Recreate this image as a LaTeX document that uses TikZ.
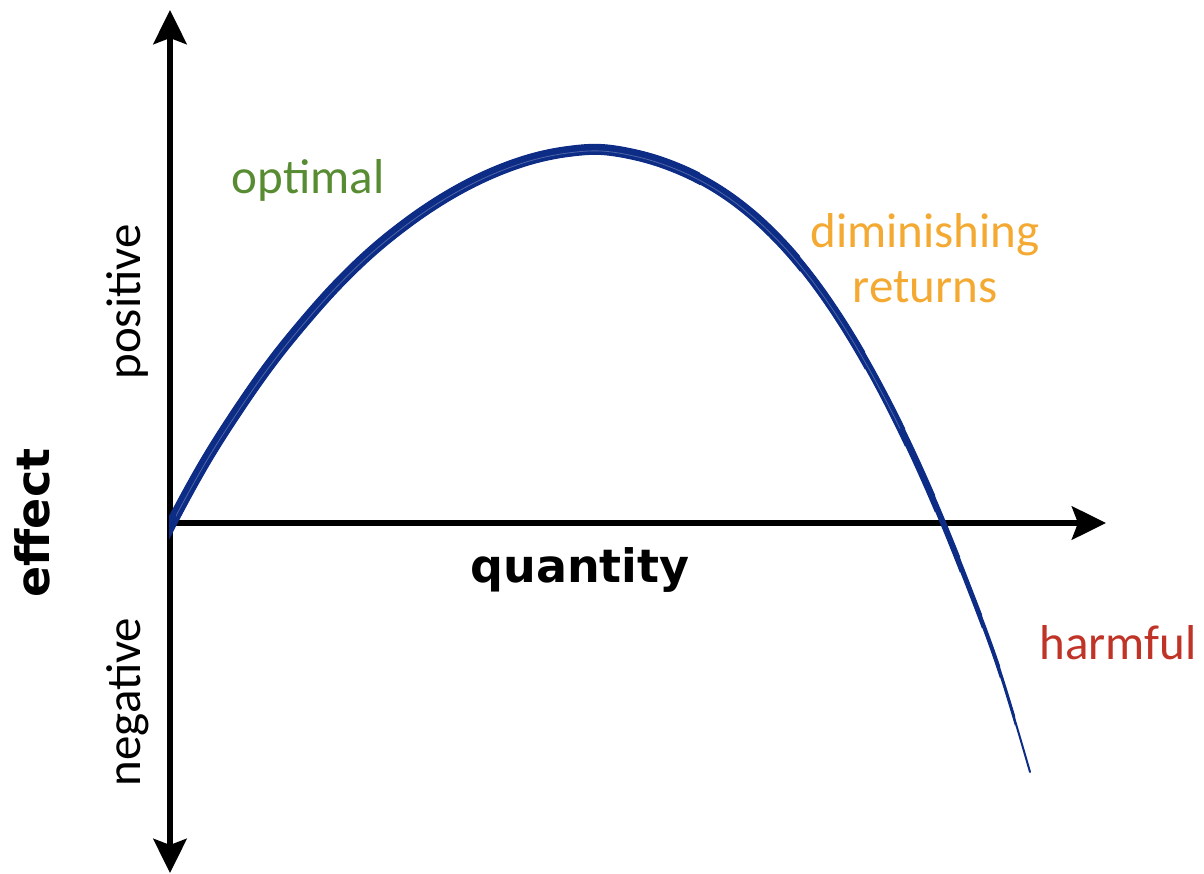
\documentclass[tikz,border=0pt]{standalone}
\usepackage{fontspec}
\usepackage{graphicx}
\setmainfont{Carlito}
\newfontfamily\boldface{DejaVu Sans}
\usetikzlibrary{arrows.meta}
\definecolor{navy}{RGB}{12,44,134}
\definecolor{optgreen}{RGB}{88,140,50}
\definecolor{dimorange}{RGB}{244,170,50}
\definecolor{harmred}{RGB}{192,52,40}
\newcommand{\hcurve}{plot[smooth,tension=0.6] coordinates {(139,588) (172,522) (205,462) (238,410) (271,363) (304,322) (337,285) (370,253) (403,226) (436,203) (469,184) (502,169) (535,158) (568,151.5) (601,149.5) (636,155) (669,165) (702,180) (735,201) (768,229) (801,265) (834,310) (867,364) (900,427) (933,499) (966,580) (999,669) (1030,772)}}
\begin{document}
\begin{tikzpicture}[x=1pt,y=-1pt,
  arrowtip/.style={-{Stealth[length=34pt,width=33pt,inset=6pt]}},
  axisline/.style={line width=6.5pt},
  lbl/.style={inner sep=0pt, font=\fontsize{49}{58}\selectfont},
  boldlbl/.style={inner sep=0pt, font=\boldface\bfseries\fontsize{46}{54}\selectfont},
  curvestroke/.style={draw=navy, line cap=round, line join=round}]
\useasboundingbox (0,0) rectangle (1204,874);
\coordinate (O) at (170,523);
\coordinate (ytop) at (170,10);
\coordinate (ybot) at (170,873);
\coordinate (xend) at (1106,523);
\draw[axisline, {Stealth[length=34pt,width=33pt,inset=6pt]}-{Stealth[length=34pt,width=33pt,inset=6pt]}] (ybot) -- (ytop);
\draw[axisline, arrowtip] (O) -- (xend);
% curve, tapering toward its end
\begin{scope}
\clip (169,0) rectangle (1204,874);
\draw[curvestroke, line width=2pt] \hcurve;
\end{scope}
\foreach \w/\xc in {3/1015, 4/1000, 5/982, 6/960, 7/935, 8/905, 9/865, 10/800, 11/700}{
  \begin{scope}
  \clip (169,0) rectangle (\xc,874);
  \draw[curvestroke, line width=\w pt] \hcurve;
  \end{scope}
}
% sketchy texture
\begin{scope}
\clip (176,0) rectangle (900,874);
\draw[line width=0.8pt, navy!55, opacity=0.6, yshift=-1.5pt] \hcurve;
\end{scope}
% labels
\node[lbl, text=optgreen, anchor=base] (optimal) at (308,194) {optimal};
\node[lbl, text=dimorange, anchor=base] (dim1) at (925,248) {diminishing};
\node[lbl, text=dimorange, anchor=base] (dim2) at (925,303) {returns};
\node[lbl, text=harmred, anchor=base] (harm) at (1118,659) {harmful};
\node[boldlbl, anchor=base] (quant) at (580,582) {quantity};
\node[lbl, rotate=90, anchor=base] (pos) at (140,302) {positive};
\node[lbl, rotate=90, anchor=base] (neg) at (140,702) {negative};
\node[boldlbl, rotate=90, anchor=base] (eff) at (49,523) {effect};
\end{tikzpicture}
\end{document}
